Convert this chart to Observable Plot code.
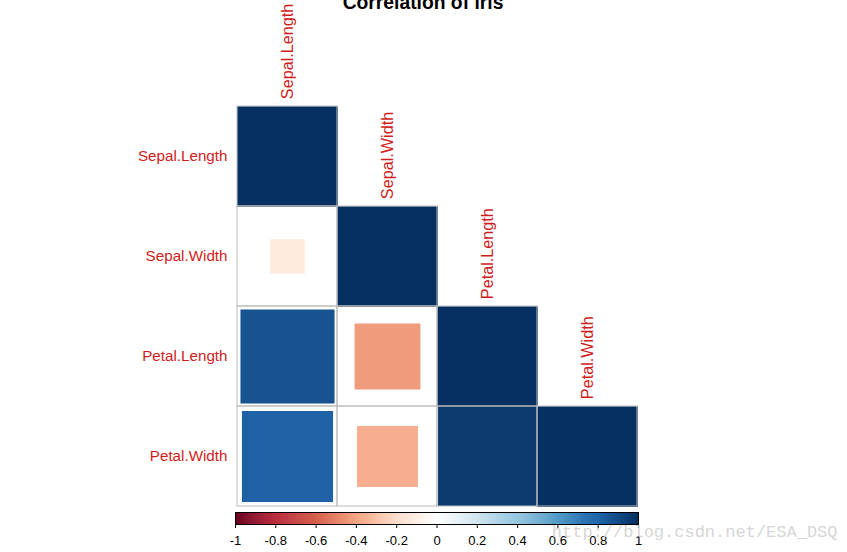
<!DOCTYPE html>
<html>
<head>
<meta charset="utf-8">
<script src="https://cdn.jsdelivr.net/npm/d3@7"></script>
<script src="https://cdn.jsdelivr.net/npm/@observablehq/plot@0.6"></script>
<style>
  html, body { margin: 0; padding: 0; background: #fff; }
  #chart svg { display: block; font-family: "Liberation Sans", Arial, sans-serif; }
</style>
</head>
<body>
<div id="chart"></div>
<script>
// ---- data ----
const variables = ["Sepal.Length", "Sepal.Width", "Petal.Length", "Petal.Width"];
const rowVar = ["Sepal.Length", "Sepal.Width", "Sepal.Width", "Petal.Length", "Petal.Length", "Petal.Length", "Petal.Width", "Petal.Width", "Petal.Width", "Petal.Width"];
const colVar = ["Sepal.Length", "Sepal.Length", "Sepal.Width", "Sepal.Length", "Sepal.Width", "Petal.Length", "Sepal.Length", "Sepal.Width", "Petal.Length", "Petal.Width"];
const corrValues = [1, -0.118, 1, 0.872, -0.428, 1, 0.818, -0.366, 0.963, 1];
const legendTicks = [-1, -0.8, -0.6, -0.4, -0.2, 0, 0.2, 0.4, 0.6, 0.8, 1];
const paletteStops = [-1, -0.8, -0.6, -0.4, -0.2, 0, 0.2, 0.4, 0.6, 0.8, 1];
const paletteColors = ["#67001F", "#B2182B", "#D6604D", "#F4A582", "#FDDBC7", "#FFFFFF", "#D1E5F0", "#92C5DE", "#4393C3", "#2166AC", "#053061"];
const titleText = "Correlation of iris";
const watermark = "http://blog.csdn.net/ESA_DSQ";

const cells = corrValues.map((r, i) => ({row: rowVar[i], col: colVar[i], r}));
const RED = "#d01c1c";
const GRID = "#bcbcbc";
const W = 847, ML = 235, MR = 209, MT = 104, MB = 3, H = 510;
const cellSize = (H - MT - MB) / variables.length;
const colorScale = {type: "linear", domain: paletteStops, range: paletteColors, interpolate: "rgb"};

const main = Plot.plot({
  width: W, height: H,
  marginLeft: ML, marginRight: MR, marginTop: MT, marginBottom: MB,
  style: {fontFamily: "Liberation Sans, Arial, sans-serif", background: "white"},
  x: {type: "band", domain: variables, padding: 0, axis: null},
  y: {type: "band", domain: variables, padding: 0, axis: null},
  color: colorScale,
  r: {type: "sqrt", domain: [0, 1], range: [0, cellSize / Math.sqrt(Math.PI)]},
  marks: [
    Plot.cell(cells, {x: "col", y: "row", fill: "white"}),
    Plot.dot(cells, {x: "col", y: "row", symbol: "square", r: d => Math.abs(d.r), fill: d => d.r, stroke: null}),
    Plot.cell(cells, {x: "col", y: "row", fill: "none", stroke: GRID, strokeWidth: 1}),
    Plot.axisY({tickSize: 0, tickPadding: 8, fontSize: 15.2, fill: RED, label: null}),
    Plot.text(variables, {x: d => d, y: d => d, rotate: -90, textAnchor: "start", dy: -(cellSize / 2 + 7), fontSize: 16.2, fill: RED}),
    Plot.text([titleText], {frameAnchor: "top", dy: -96, dx: -14, lineAnchor: "bottom", fontSize: 19.3, fontWeight: "bold", fill: "black"})
  ]
});

const gradient = d3.range(0, 400).map(i => ({a: -1 + i * 0.005, b: -1 + (i + 1) * 0.005}));
const legend = Plot.plot({
  width: W, height: 42,
  marginLeft: ML, marginRight: MR, marginTop: 2, marginBottom: 28,
  style: {fontFamily: "Liberation Sans, Arial, sans-serif", background: "white", overflow: "visible"},
  x: {type: "linear", domain: [-1, 1]},
  y: {type: "linear", domain: [0, 1], axis: null},
  color: colorScale,
  marks: [
    Plot.rect(gradient, {x1: "a", x2: d => d.b + 0.002, y1: 0, y2: 1, fill: d => (d.a + d.b) / 2}),
    Plot.frame({stroke: "black", strokeWidth: 1}),
    Plot.axisX({ticks: legendTicks, tickSize: 4, tickPadding: 7, fontSize: 13, stroke: "black", fill: "black",
      tickFormat: d => String(+d.toFixed(1)), label: null}),
    Plot.text([watermark], {frameAnchor: "bottom-right", dx: MR - 10, dy: 12, textAnchor: "end", fontSize: 17,
      fontFamily: "Liberation Mono, DejaVu Sans Mono, monospace", fill: "#d6d6d6"})
  ]
});

const el = document.getElementById("chart");
el.appendChild(main);
el.appendChild(legend);
</script>
</body>
</html>
